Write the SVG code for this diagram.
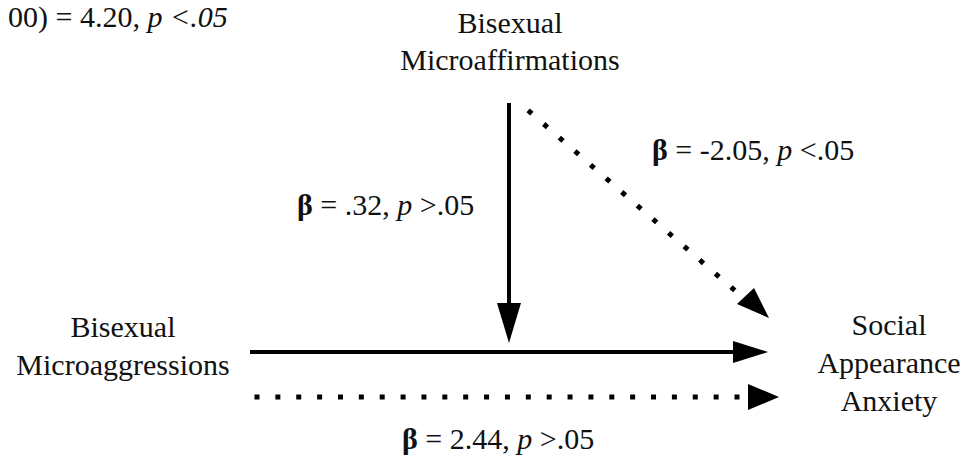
<svg xmlns="http://www.w3.org/2000/svg" width="971" height="463" viewBox="0 0 971 463">
  <style>
    text { font-family: "Liberation Serif", "Times New Roman", serif; font-size: 30px; fill: #111; }
    .node text { text-anchor: middle; }
    .solid { stroke: #000; stroke-width: 4; fill: none; }
    .dot { stroke: #000; stroke-width: 5; fill: none; }
    .head { fill: #000; stroke: none; }
    .b { font-weight: bold; }
    .i { font-style: italic; }
  </style>
  <rect width="971" height="463" fill="#fff"/>

  <g id="model-stat">
    <text x="8" y="27">00) = 4.20, <tspan class="i">p &lt;.05</tspan></text>
  </g>

  <g id="node-microaffirmations" class="node">
    <text x="510" y="33">Bisexual</text>
    <text x="510" y="70">Microaffirmations</text>
  </g>

  <g id="node-microaggressions" class="node">
    <text x="123" y="337">Bisexual</text>
    <text x="123" y="375">Microaggressions</text>
  </g>

  <g id="node-social-appearance-anxiety" class="node">
    <text x="889" y="335">Social</text>
    <text x="889" y="373">Appearance</text>
    <text x="889" y="411">Anxiety</text>
  </g>

  <g id="connectors">
    <!-- moderator path (vertical) -->
    <line class="solid" x1="509" y1="103" x2="509" y2="306"/>
    <polygon class="head" points="497,303 521,303 509,343"/>
    <!-- moderator direct path (dotted diagonal) -->
    <line class="dot" x1="528.1" y1="110.4" x2="734.9" y2="290.6" stroke-dasharray="5 15.7"/>
    <polygon class="head" points="737,304 754,288 769,318"/>
    <!-- main path (solid) -->
    <line class="solid" x1="250" y1="352" x2="736" y2="352"/>
    <polygon class="head" points="733,341 768,352 733,363"/>
    <!-- direct path (dotted) -->
    <line class="dot" x1="254.5" y1="397" x2="739.5" y2="397" stroke-dasharray="5 15.87"/>
    <polygon class="head" points="748,384 779,397 748,410"/>
  </g>

  <g id="labels">
    <text x="652" y="160"><tspan class="b">β</tspan> = -2.05, <tspan class="i">p</tspan> &lt;.05</text>
    <text x="297" y="215"><tspan class="b">β</tspan> = .32, <tspan class="i">p</tspan> &gt;.05</text>
    <text x="402" y="449"><tspan class="b">β</tspan> = 2.44, <tspan class="i">p</tspan> &gt;.05</text>
  </g>
</svg>
